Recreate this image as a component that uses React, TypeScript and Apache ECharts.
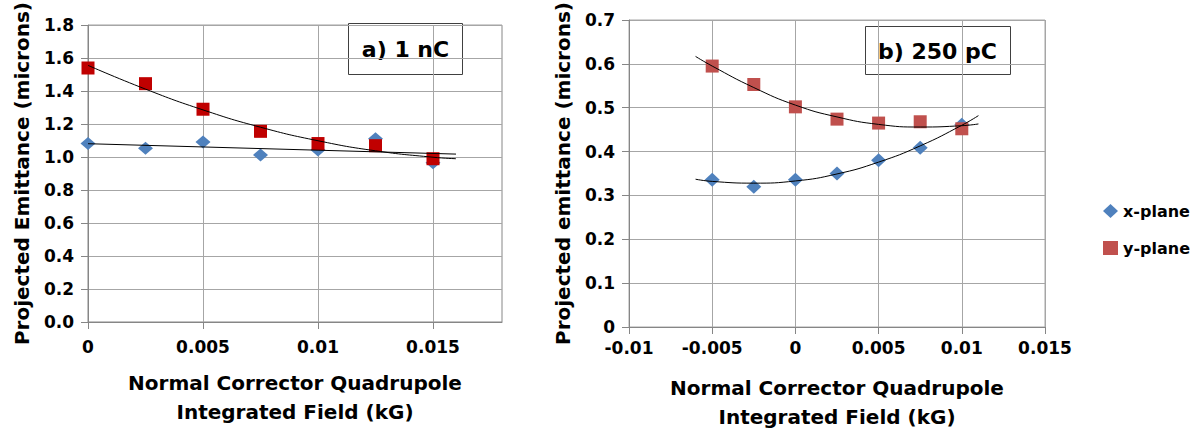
import React, { useEffect, useRef } from "react";
import * as echarts from "echarts";

// ---- Data ----
// (a) 1 nC
const fieldA = [0, 0.0025, 0.005, 0.0075, 0.01, 0.0125, 0.015];
const xPlaneA = [1.082, 1.053, 1.092, 1.013, 1.043, 1.111, 0.966];
const yPlaneA = [1.54, 1.445, 1.29, 1.156, 1.082, 1.069, 0.99];
const trendXFieldA = [0, 0.016];
const trendXA = [1.081, 1.018];
const trendYFieldA = [0, 0.0025, 0.005, 0.0075, 0.01, 0.0125, 0.015, 0.016];
const trendYA = [1.556, 1.412, 1.286, 1.181, 1.099, 1.038, 0.999, 0.99];

// (b) 250 pC
const fieldB = [-0.005, -0.0025, 0, 0.0025, 0.005, 0.0075, 0.01];
const xPlaneB = [0.336, 0.32, 0.336, 0.35, 0.38, 0.409, 0.461];
const yPlaneB = [0.595, 0.553, 0.502, 0.474, 0.465, 0.468, 0.452];
const trendFieldB = [-0.006, -0.005, -0.0025, 0, 0.0025, 0.005, 0.0075, 0.01, 0.011];
const trendXB = [0.337, 0.332, 0.328, 0.333, 0.349, 0.376, 0.413, 0.46, 0.482];
const trendYB = [0.617, 0.595, 0.546, 0.506, 0.479, 0.462, 0.456, 0.459, 0.463];

const xTicksA = [0, 0.005, 0.01, 0.015];
const xName = "Normal Corrector Quadrupole\nIntegrated Field (kG)";
const yNameA = "Projected Emittance (microns)";
const yNameB = "Projected emittance (microns)";
const labelA = "a) 1 nC";
const labelB = "b) 250 pC";
const seriesNames = ["x-plane", "y-plane"];

const FONT = "DejaVu Sans";
const BLUE = "#4F81BD";
const RED_A = "#C00000";
const RED_B = "#C0504D";
const GRID = "#a6a6a6";
const AXIS = "#868686";

const zip = (xs: number[], ys: number[]) => xs.map((x, i) => [x, ys[i]]);

export default function App() {
  const ref = useRef<HTMLDivElement>(null);
  useEffect(() => {
    document.body.style.margin = "0";
    const chart = echarts.init(ref.current!, null, { renderer: "svg" });
    const axisText = { fontFamily: FONT, fontWeight: "bold" as const, fontSize: 17, color: "#000" };
    const nameText = { fontFamily: FONT, fontWeight: "bold" as const, fontSize: 20, color: "#000" };
    const splitLine = { show: true, lineStyle: { color: GRID, width: 1 } };
    const axisLine = { show: true, onZero: false, lineStyle: { color: AXIS, width: 1 } };
    const axisTick = { show: true, inside: false, length: 7, lineStyle: { color: AXIS } };
    const trendLine = { color: "#000", width: 1 };

    chart.setOption({
      animation: false,
      backgroundColor: "#fff",
      grid: [
        { left: 88, top: 11, width: 414, height: 311, show: true, borderColor: AXIS, borderWidth: 1 },
        { left: 629, top: 14, width: 416, height: 313, show: true, borderColor: GRID, borderWidth: 1 },
      ],
      xAxis: [
        {
          type: "value", gridIndex: 0, min: 0, max: 0.018, interval: 0.005,
          axisLine, axisTick: { ...axisTick, customValues: xTicksA }, splitLine,
          axisLabel: { ...axisText, margin: 16, customValues: xTicksA },
          name: xName, nameLocation: "middle", nameGap: 46,
          nameTextStyle: { ...nameText, lineHeight: 29 },
        },
        {
          type: "value", gridIndex: 1, min: -0.01, max: 0.015, interval: 0.005,
          axisLine, axisTick, splitLine,
          axisLabel: { ...axisText, margin: 12 },
          name: xName, nameLocation: "middle", nameGap: 46,
          nameTextStyle: { ...nameText, lineHeight: 29 },
        },
      ],
      yAxis: [
        {
          type: "value", gridIndex: 0, min: 0, max: 1.8, interval: 0.2,
          axisLine, axisTick, splitLine,
          axisLabel: { ...axisText, margin: 14, formatter: (v: number) => v.toFixed(1) },
          name: yNameA, nameLocation: "middle", nameGap: 56, nameTextStyle: nameText,
        },
        {
          type: "value", gridIndex: 1, min: 0, max: 0.7, interval: 0.1,
          axisLine, axisTick, splitLine,
          axisLabel: { ...axisText, margin: 14 },
          name: yNameB, nameLocation: "middle", nameGap: 56, nameTextStyle: nameText,
        },
      ],
      legend: {
        orient: "vertical", left: 1098, top: 198, itemGap: 21,
        itemWidth: 15, itemHeight: 14,
        textStyle: { fontFamily: FONT, fontWeight: "bold", fontSize: 16, color: "#000" },
        data: [
          { name: seriesNames[0], icon: "diamond", itemStyle: { color: BLUE } },
          { name: seriesNames[1], icon: "rect", itemStyle: { color: RED_B } },
        ],
      },
      series: [
        { type: "line", name: "trendXB", xAxisIndex: 1, yAxisIndex: 1, data: zip(trendFieldB, trendXB), smooth: true, symbol: "none", lineStyle: trendLine, z: 3 },
        { type: "line", name: "trendYB", xAxisIndex: 1, yAxisIndex: 1, data: zip(trendFieldB, trendYB), smooth: true, symbol: "none", lineStyle: trendLine, z: 3 },
        { type: "scatter", name: seriesNames[0], xAxisIndex: 1, yAxisIndex: 1, data: zip(fieldB, xPlaneB), symbol: "diamond", symbolSize: [15, 14], itemStyle: { color: BLUE, opacity: 1 }, z: 2 },
        { type: "scatter", name: seriesNames[1], xAxisIndex: 1, yAxisIndex: 1, data: zip(fieldB, yPlaneB), symbol: "rect", symbolSize: 13, itemStyle: { color: RED_B, opacity: 1 }, z: 2 },
        { type: "scatter", name: seriesNames[0], xAxisIndex: 0, yAxisIndex: 0, data: zip(fieldA, xPlaneA), symbol: "diamond", symbolSize: [15, 13], itemStyle: { color: BLUE, opacity: 1 }, z: 2 },
        { type: "scatter", name: seriesNames[1], xAxisIndex: 0, yAxisIndex: 0, data: zip(fieldA, yPlaneA), symbol: "rect", symbolSize: 13, itemStyle: { color: RED_A, opacity: 1 }, z: 2 },
        { type: "line", name: "trendXA", xAxisIndex: 0, yAxisIndex: 0, data: zip(trendXFieldA, trendXA), symbol: "none", lineStyle: trendLine, z: 3 },
        { type: "line", name: "trendYA", xAxisIndex: 0, yAxisIndex: 0, data: zip(trendYFieldA, trendYA), smooth: true, symbol: "none", lineStyle: trendLine, z: 3 },
      ],
      graphic: [
        {
          type: "group", left: 348, top: 23, z: 10,
          children: [
            { type: "rect", shape: { x: 0, y: 0, width: 114, height: 51 }, style: { fill: "#fff", stroke: "#404040", lineWidth: 1 } },
            { type: "text", x: 57, y: 26, style: { text: labelA, fontFamily: FONT, fontWeight: "bold", fontSize: 22, fill: "#000", align: "center", verticalAlign: "middle" } },
          ],
        },
        {
          type: "group", left: 865, top: 26, z: 10,
          children: [
            { type: "rect", shape: { x: 0, y: 0, width: 145, height: 48 }, style: { fill: "#fff", stroke: "#404040", lineWidth: 1 } },
            { type: "text", x: 72, y: 25, style: { text: labelB, fontFamily: FONT, fontWeight: "bold", fontSize: 22, fill: "#000", align: "center", verticalAlign: "middle" } },
          ],
        },
      ],
    });
    return () => chart.dispose();
  }, []);
  return <div ref={ref} style={{ width: 1196, height: 439 }} />;
}
